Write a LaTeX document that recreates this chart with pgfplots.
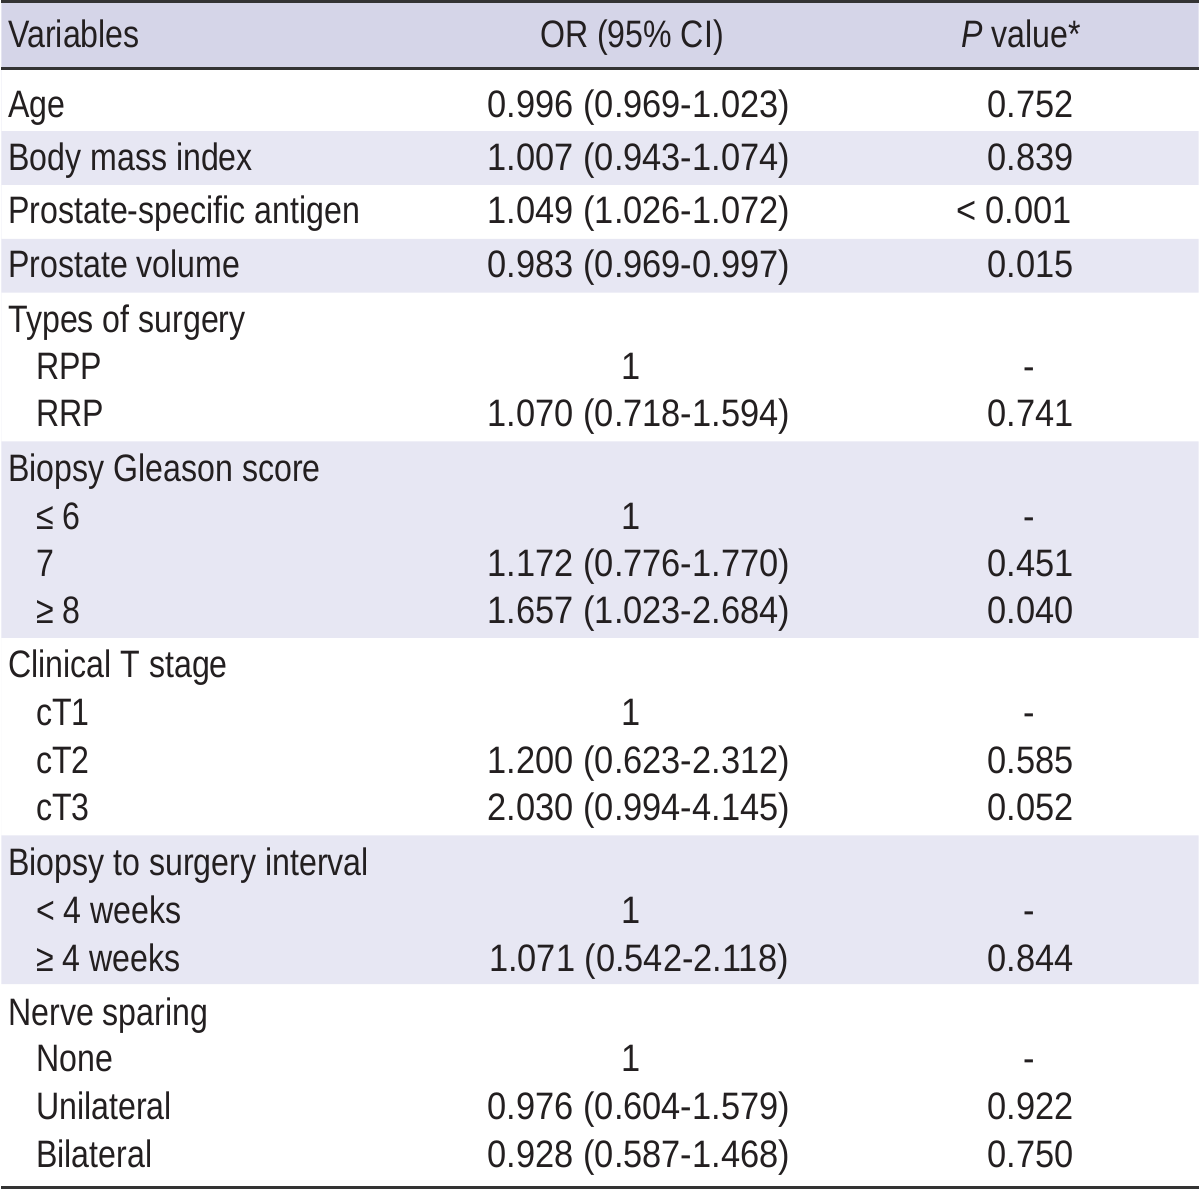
\documentclass[border=0pt]{standalone}
\usepackage{fontspec}
\setmainfont{Liberation Sans}[FakeStretch=0.90]
\newfontfamily\labfont{Liberation Sans}[FakeStretch=0.84]
\usepackage{pgfplots}
\pgfplotsset{compat=1.18}
\definecolor{headbg}{HTML}{D5D5E8}
\definecolor{rowbg}{HTML}{E7E7F3}
\definecolor{rule}{HTML}{333333}
\definecolor{ink}{HTML}{231F20}
\tikzset{
  cell/.style={font=\fontsize{10.9}{12}\selectfont,text=ink,inner sep=0pt,outer sep=0pt},
  L/.style={cell,anchor=base west,font=\fontsize{10.9}{12}\selectfont\labfont},
  H/.style={cell,anchor=base,font=\fontsize{10.9}{12}\selectfont\labfont},
  C/.style={cell,anchor=base},
  R/.style={cell,anchor=base east}}
\begin{document}
\begin{tikzpicture}
\begin{axis}[width=12cm,height=11.92cm,scale only axis,hide axis,
  xmin=0,xmax=1200,ymin=0,ymax=1192,y dir=reverse,clip=false]
% shaded bands
\addplot[fill=headbg,draw=none] coordinates {(0,0) (1200,0) (1200,68) (0,68)} \closedcycle;
\addplot[fill=rowbg,draw=none] coordinates {(0,131) (1200,131) (1200,185) (0,185)} \closedcycle;
\addplot[fill=rowbg,draw=none] coordinates {(0,239) (1200,239) (1200,293) (0,293)} \closedcycle;
\addplot[fill=rowbg,draw=none] coordinates {(0,442) (1200,442) (1200,639) (0,639)} \closedcycle;
\addplot[fill=rowbg,draw=none] coordinates {(0,837) (1200,837) (1200,986) (0,986)} \closedcycle;
% rules
\addplot[rule,line width=0.8pt] coordinates {(0,1) (1200,1)};
\addplot[rule,line width=0.8pt] coordinates {(0,68.5) (1200,68.5)};
\addplot[rule,line width=0.8pt] coordinates {(0,1190) (1200,1190)};
% header
\node[L] at (axis cs:7,47) {Variables};
\node[H] at (axis cs:632,47) {OR (95\% CI)};
\node[H] at (axis cs:1022,47) {\textit{P} value*};
% rows: label, OR, P  (y = baseline)
\node[L] at (axis cs:7,117) {Age};
\node[C] at (axis cs:639,117) {0.996 (0.969-1.023)};
\node[R] at (axis cs:1075,117) {0.752};
\node[L] at (axis cs:7,170) {Body mass index};
\node[C] at (axis cs:639,170) {1.007 (0.943-1.074)};
\node[R] at (axis cs:1075,170) {0.839};
\node[L] at (axis cs:7,224) {Prostate-specific antigen};
\node[C] at (axis cs:639,224) {1.049 (1.026-1.072)};
\node[R] at (axis cs:1073,224) {< 0.001};
\node[L] at (axis cs:7,278) {Prostate volume};
\node[C] at (axis cs:639,278) {0.983 (0.969-0.997)};
\node[R] at (axis cs:1075,278) {0.015};
\node[L] at (axis cs:7,333) {Types of surgery};
\node[L] at (axis cs:35,380) {RPP};
\node[C] at (axis cs:631,380) {1};
\node[C] at (axis cs:1030,380) {-};
\node[L] at (axis cs:35,427) {RRP};
\node[C] at (axis cs:639,427) {1.070 (0.718-1.594)};
\node[R] at (axis cs:1075,427) {0.741};
\node[L] at (axis cs:7,482) {Biopsy Gleason score};
\node[L] at (axis cs:35,530) {≤ 6};
\node[C] at (axis cs:631,530) {1};
\node[C] at (axis cs:1030,530) {-};
\node[L] at (axis cs:35,577) {7};
\node[C] at (axis cs:639,577) {1.172 (0.776-1.770)};
\node[R] at (axis cs:1075,577) {0.451};
\node[L] at (axis cs:35,625) {≥ 8};
\node[C] at (axis cs:639,625) {1.657 (1.023-2.684)};
\node[R] at (axis cs:1075,625) {0.040};
\node[L] at (axis cs:7,679) {Clinical T stage};
\node[L] at (axis cs:35,727) {cT1};
\node[C] at (axis cs:631,727) {1};
\node[C] at (axis cs:1030,727) {-};
\node[L] at (axis cs:35,775) {cT2};
\node[C] at (axis cs:639,775) {1.200 (0.623-2.312)};
\node[R] at (axis cs:1075,775) {0.585};
\node[L] at (axis cs:35,822) {cT3};
\node[C] at (axis cs:639,822) {2.030 (0.994-4.145)};
\node[R] at (axis cs:1075,822) {0.052};
\node[L] at (axis cs:7,877) {Biopsy to surgery interval};
\node[L] at (axis cs:35,925) {< 4 weeks};
\node[C] at (axis cs:631,925) {1};
\node[C] at (axis cs:1030,925) {-};
\node[L] at (axis cs:35,973) {≥ 4 weeks};
\node[C] at (axis cs:639,973) {1.071 (0.542-2.118)};
\node[R] at (axis cs:1075,973) {0.844};
\node[L] at (axis cs:7,1027) {Nerve sparing};
\node[L] at (axis cs:35,1074) {None};
\node[C] at (axis cs:631,1074) {1};
\node[C] at (axis cs:1030,1074) {-};
\node[L] at (axis cs:35,1122) {Unilateral};
\node[C] at (axis cs:639,1122) {0.976 (0.604-1.579)};
\node[R] at (axis cs:1075,1122) {0.922};
\node[L] at (axis cs:35,1170) {Bilateral};
\node[C] at (axis cs:639,1170) {0.928 (0.587-1.468)};
\node[R] at (axis cs:1075,1170) {0.750};
\end{axis}
\end{tikzpicture}
\end{document}
